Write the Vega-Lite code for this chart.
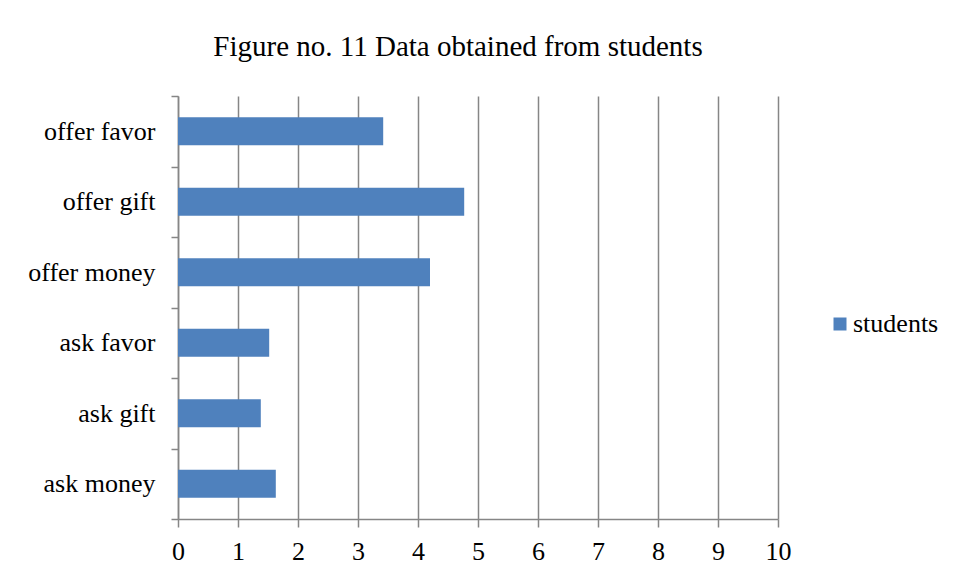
{
  "$schema": "https://vega.github.io/schema/vega-lite/v6.json",
  "autosize": {"type": "none"},
  "padding": {"left": 178, "top": 96, "right": 179, "bottom": 60},
  "width": 600,
  "height": 423,
  "background": "white",
  "title": {
    "text": "Figure no. 11 Data obtained from students",
    "font": "Liberation Serif",
    "fontSize": 29,
    "fontWeight": "normal",
    "color": "#000000",
    "anchor": "middle",
    "frame": "group",
    "dx": -20,
    "offset": 21
  },
  "data": {
    "values": [
      {"item": "offer favor", "series": "students", "value": 3.42},
      {"item": "offer gift", "series": "students", "value": 4.77},
      {"item": "offer money", "series": "students", "value": 4.2},
      {"item": "ask favor", "series": "students", "value": 1.52},
      {"item": "ask gift", "series": "students", "value": 1.38},
      {"item": "ask money", "series": "students", "value": 1.63}
    ]
  },
  "mark": {"type": "bar", "cornerRadius": 0, "height": {"band": 0.4}},
  "encoding": {
    "y": {
      "field": "item",
      "type": "nominal",
      "sort": null,
      "scale": {"paddingInner": 0, "paddingOuter": 0},
      "axis": {
        "title": null,
        "grid": false,
        "tickBand": "extent",
        "tickSize": 7,
        "tickColor": "#868686",
        "tickWidth": 1.5,
        "domainColor": "#868686",
        "domainWidth": 1.5,
        "labelPadding": 16,
        "labelFont": "Liberation Serif",
        "labelFontSize": 26,
        "labelColor": "#000000"
      }
    },
    "x": {
      "field": "value",
      "type": "quantitative",
      "scale": {"domain": [0, 10], "nice": false},
      "axis": {
        "title": null,
        "values": [0, 1, 2, 3, 4, 5, 6, 7, 8, 9, 10],
        "grid": true,
        "gridColor": "#868686",
        "gridWidth": 1.5,
        "tickSize": 8,
        "tickColor": "#868686",
        "tickWidth": 1.5,
        "domainColor": "#868686",
        "domainWidth": 1.5,
        "labelPadding": 11,
        "labelFont": "Liberation Serif",
        "labelFontSize": 26,
        "labelColor": "#000000",
        "labelFlush": false
      }
    },
    "color": {
      "field": "series",
      "type": "nominal",
      "scale": {"range": ["#4F81BD"]},
      "legend": {
        "title": null,
        "orient": "none",
        "legendX": 649,
        "legendY": 215,
        "padding": 0,
        "symbolType": "square",
        "symbolSize": 169,
        "symbolStrokeWidth": 0,
        "labelOffset": 0,
        "labelFont": "Liberation Serif",
        "labelFontSize": 26,
        "labelColor": "#000000"
      }
    }
  },
  "config": {
    "font": "Liberation Serif",
    "view": {"stroke": null}
  }
}
